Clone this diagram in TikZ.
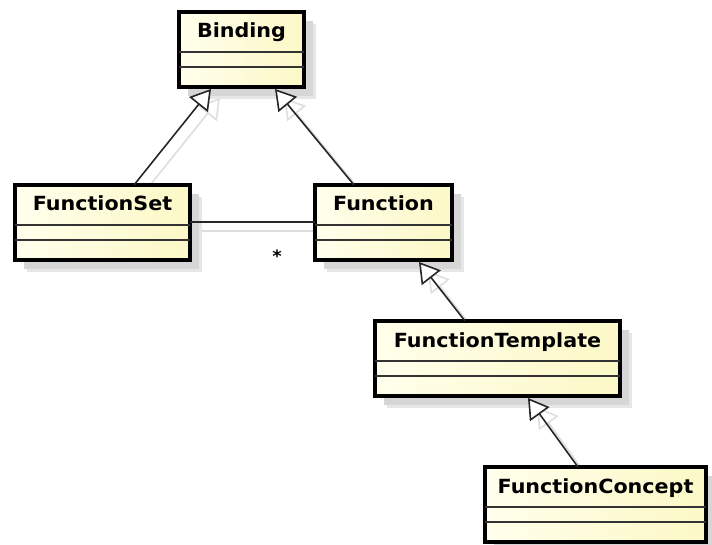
\documentclass[tikz,border=0pt]{standalone}
\usepackage{fontspec}
\newfontfamily\umlfont[FakeStretch=1.06]{DejaVu Sans Bold}
\usetikzlibrary{arrows.meta,shadows}

\definecolor{boxlight}{RGB}{255,255,236}
\definecolor{boxdark}{RGB}{252,248,198}
\definecolor{shadowgray}{RGB}{214,214,214}
\definecolor{linkshadow}{RGB}{222,222,222}

\tikzset{
  umlclass/.style={
    draw=black, line width=4pt, inner sep=0pt, outer sep=0pt,
    left color=boxlight, right color=boxdark,
    anchor=north west,
    general shadow={shadow xshift=12pt, shadow yshift=-12pt, fill=shadowgray!60, draw=none},
    general shadow={shadow xshift=9pt, shadow yshift=-9pt, fill=shadowgray, draw=none}
  },
  compartment/.style={draw=black!80, line width=1.4pt},
  classname/.style={anchor=base, inner sep=0pt, font=\umlfont\fontsize{19.5}{22}\selectfont, text=black},
  generalization/.style={draw=black!85, line width=1.6pt,
    -{Triangle[open, length=20pt, width=24pt, line width=1.6pt, fill=white]}},
  genshadow/.style={draw=linkshadow, line width=1.6pt,
    -{Triangle[open, length=20pt, width=24pt, line width=1.6pt]}},
  association/.style={draw=black!85, line width=1.3pt},
  assocshadow/.style={draw=linkshadow, line width=1.3pt}
}

% a class box: name, left, top, width, label
\newcommand{\umlclassbox}[5]{%
  \node[umlclass, minimum width=#4pt, minimum height=75pt] (#1) at (#2,#3) {};
  \draw[compartment] ([yshift=-40pt]#1.north west) -- ([yshift=-40pt]#1.north east);
  \draw[compartment] ([yshift=-55pt]#1.north west) -- ([yshift=-55pt]#1.north east);
  \node[classname] (#1-name) at ([yshift=-26pt]#1.north) {#5};
}

\begin{document}
\begin{tikzpicture}[x=1pt, y=-1pt]
  \useasboundingbox (0,0) rectangle (712,545);

  % connection points on the box borders
  \coordinate (fsTop) at (134,185);
  \coordinate (bindL) at (211,89);
  \coordinate (fnTop) at (354,185);
  \coordinate (bindR) at (275,89);
  \coordinate (ftTop) at (465,321);
  \coordinate (fnBot) at (419,262);
  \coordinate (fcTop) at (578,467);
  \coordinate (ftBot) at (528,398);

  % faint shadows of the connectors
  \draw[genshadow] ([shift={(9,9)}]fsTop) -- ([shift={(9,9)}]bindL);
  \draw[genshadow] ([shift={(9,9)}]fnTop) -- ([shift={(9,9)}]bindR);
  \draw[genshadow] ([shift={(9,9)}]ftTop) -- ([shift={(9,9)}]fnBot);
  \draw[genshadow] ([shift={(9,9)}]fcTop) -- ([shift={(9,9)}]ftBot);
  \draw[assocshadow] (192,231) -- (325,231);

  % classes
  \umlclassbox{binding}{179}{12}{125}{Binding}
  \umlclassbox{functionset}{15}{185}{175}{FunctionSet}
  \umlclassbox{function}{315}{185}{137}{Function}
  \umlclassbox{functiontemplate}{375}{321}{245}{FunctionTemplate}
  \umlclassbox{functionconcept}{485}{467}{221}{FunctionConcept}

  % association between FunctionSet and Function
  \draw[association] (functionset.east |- 0,222) -- (function.west |- 0,222);
  \node[font=\umlfont\fontsize{17}{20}\selectfont, inner sep=0pt] (mult) at (277,256) {*};

  % generalizations
  \draw[generalization] (fsTop) -- (bindL);
  \draw[generalization] (fnTop) -- (bindR);
  \draw[generalization] (ftTop) -- (fnBot);
  \draw[generalization] (fcTop) -- (ftBot);
\end{tikzpicture}
\end{document}
